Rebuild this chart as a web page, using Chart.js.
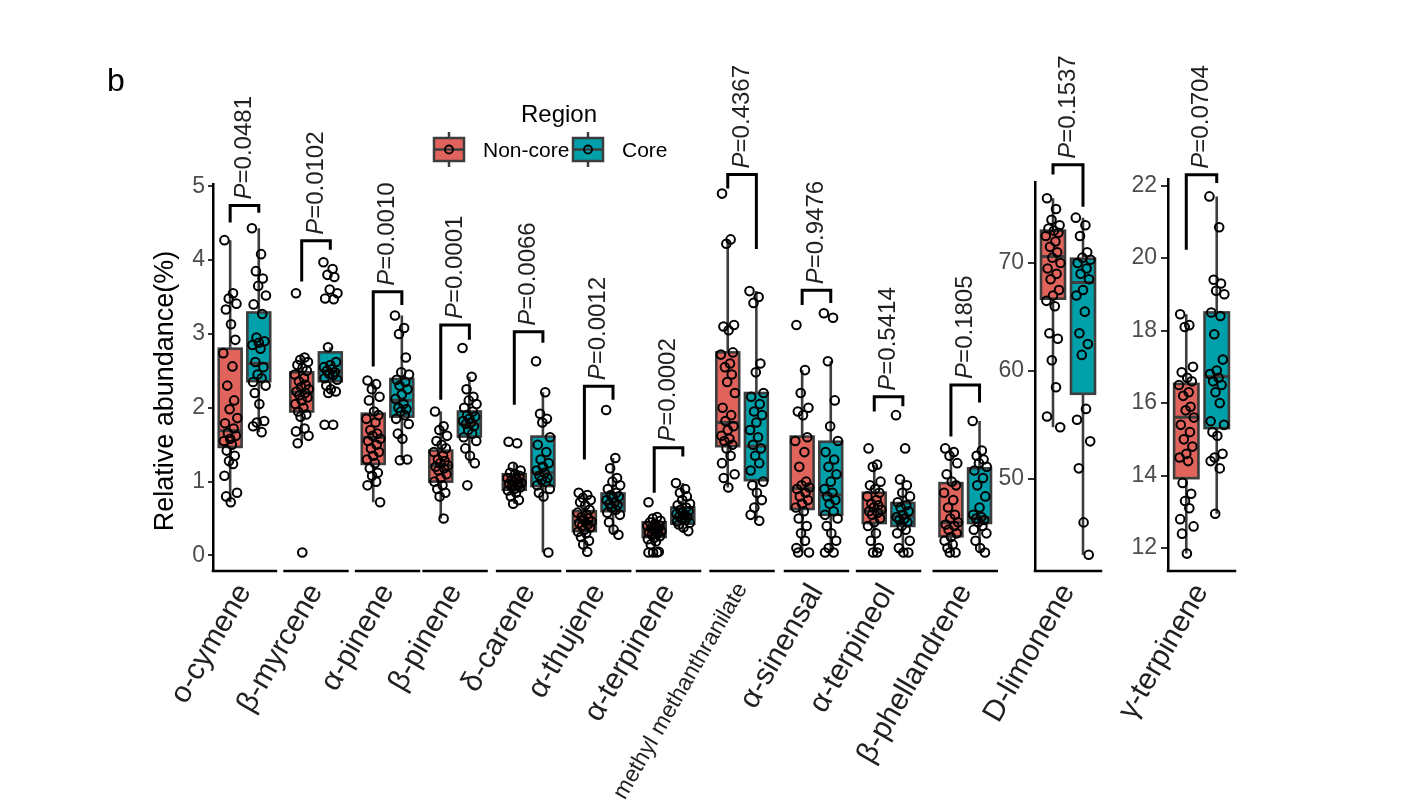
<!DOCTYPE html>
<html>
<head>
<meta charset="utf-8">
<script src="https://cdn.jsdelivr.net/npm/chart.js@4.4.0/dist/chart.umd.min.js"></script>
<style>
    html, body { margin: 0; padding: 0; background: #ffffff; }
    #wrap { position: relative; width: 1414px; height: 806px; overflow: hidden; }
    #wrap canvas { position: absolute; left: 0; top: 0; }
</style>
</head>
<body>
<div id="wrap">
    <canvas id="mainChart" width="1414" height="806"></canvas>
    <canvas id="limoneneChart" width="1414" height="806"></canvas>
    <canvas id="terpineneChart" width="1414" height="806"></canvas>
</div>
<script>
// ---- data ----
const compounds = ['o-cymene', 'β-myrcene', 'α-pinene', 'β-pinene', 'δ-carene', 'α-thujene', 'α-terpinene',
    'methyl methanthranilate', 'α-sinensal', 'α-terpineol', 'β-phellandrene', 'D-limonene', 'γ-terpinene'];
const regions = ['Non-core', 'Core'];
const pValues = ['0.0481', '0.0102', '0.0010', '0.0001', '0.0066', '0.0012', '0.0002',
    '0.4367', '0.9476', '0.5414', '0.1805', '0.1537', '0.0704'];

const mainTicks = [0, 1, 2, 3, 4, 5];
const limoneneTicks = [50, 60, 70];
const terpineneTicks = [12, 14, 16, 18, 20, 22];

// [lower whisker, q1, median, q3, upper whisker]
const nonCoreBox = [
    [0.72, 1.47, 1.69, 2.80, 4.27],
    [1.52, 1.95, 2.21, 2.48, 2.68],
    [0.72, 1.24, 1.60, 1.92, 2.37],
    [0.50, 1.00, 1.22, 1.42, 1.95],
    [0.70, 0.89, 1.00, 1.10, 1.25],
    [0.05, 0.33, 0.46, 0.60, 0.85],
    [0.14, 0.25, 0.36, 0.45, 0.52],
    [0.92, 1.48, 1.80, 2.75, 4.28],
    [0.04, 0.63, 0.91, 1.61, 2.51],
    [0.04, 0.44, 0.60, 0.85, 1.23],
    [0.04, 0.26, 0.45, 0.98, 1.45],
    [54.8, 66.7, 70.6, 73.0, 76.0],
    [11.85, 13.93, 15.61, 16.53, 18.45]
];
const coreBox = [
    [1.67, 2.36, 2.60, 3.29, 4.43],
    [2.20, 2.36, 2.50, 2.75, 2.82],
    [1.29, 1.88, 2.10, 2.39, 3.25],
    [1.25, 1.61, 1.78, 1.95, 2.42],
    [0.04, 0.94, 1.12, 1.61, 2.21],
    [0.28, 0.60, 0.71, 0.84, 1.32],
    [0.31, 0.43, 0.53, 0.65, 0.98],
    [0.47, 1.02, 1.48, 2.20, 3.58],
    [0.04, 0.55, 0.82, 1.54, 2.63],
    [0.04, 0.40, 0.53, 0.71, 1.03],
    [0.04, 0.44, 0.51, 1.18, 1.82],
    [43.0, 57.9, 68.2, 70.4, 74.2],
    [12.95, 15.31, 16.73, 18.5, 21.7]
];

const nonCorePoints = [
    [4.27, 3.55, 3.48, 3.41, 3.33, 3.13, 2.92, 2.74, 2.56, 2.30, 2.10, 1.98, 1.86, 1.79, 1.72, 1.66, 1.62, 1.58, 1.55, 1.50, 1.42, 1.35, 1.28, 1.24, 1.08, 0.85, 0.80, 0.72],
    [3.55, 2.68, 2.65, 2.62, 2.58, 2.54, 2.50, 2.45, 2.40, 2.36, 2.31, 2.28, 2.25, 2.22, 2.20, 2.17, 2.14, 2.10, 2.05, 2.00, 1.95, 1.91, 1.88, 1.72, 1.68, 1.62, 1.52, 0.04],
    [2.37, 2.32, 2.25, 2.15, 2.10, 1.95, 1.90, 1.85, 1.80, 1.70, 1.65, 1.62, 1.58, 1.55, 1.50, 1.45, 1.40, 1.35, 1.30, 1.25, 1.18, 1.12, 1.08, 1.00, 0.95, 0.72],
    [1.95, 1.75, 1.70, 1.62, 1.55, 1.50, 1.45, 1.40, 1.35, 1.30, 1.28, 1.25, 1.22, 1.20, 1.18, 1.15, 1.10, 1.05, 1.00, 0.95, 0.90, 0.85, 0.80, 0.50],
    [1.54, 1.52, 1.20, 1.15, 1.12, 1.10, 1.08, 1.05, 1.03, 1.02, 1.00, 1.00, 0.98, 0.97, 0.95, 0.93, 0.92, 0.90, 0.88, 0.85, 0.80, 0.75, 0.70],
    [0.85, 0.82, 0.78, 0.75, 0.72, 0.68, 0.62, 0.58, 0.55, 0.52, 0.50, 0.48, 0.46, 0.44, 0.42, 0.40, 0.38, 0.35, 0.32, 0.30, 0.25, 0.20, 0.15, 0.05],
    [0.72, 0.52, 0.50, 0.47, 0.45, 0.43, 0.41, 0.40, 0.38, 0.37, 0.36, 0.35, 0.33, 0.31, 0.30, 0.28, 0.26, 0.24, 0.22, 0.19, 0.15, 0.05, 0.04, 0.04, 0.04],
    [4.90, 4.28, 4.22, 3.12, 3.10, 3.05, 2.75, 2.72, 2.60, 2.55, 2.45, 2.35, 2.20, 2.00, 1.90, 1.82, 1.75, 1.70, 1.62, 1.58, 1.55, 1.50, 1.45, 1.35, 1.25, 1.10, 1.05, 0.92],
    [3.12, 2.51, 2.20, 2.00, 1.95, 1.90, 1.60, 1.55, 1.40, 1.20, 1.00, 0.95, 0.92, 0.90, 0.85, 0.80, 0.75, 0.70, 0.65, 0.60, 0.50, 0.40, 0.30, 0.20, 0.10, 0.04, 0.04],
    [1.45, 1.23, 1.20, 1.00, 0.95, 0.90, 0.85, 0.80, 0.75, 0.70, 0.68, 0.65, 0.62, 0.60, 0.58, 0.55, 0.50, 0.45, 0.40, 0.30, 0.20, 0.10, 0.04, 0.04],
    [1.45, 1.40, 1.35, 1.25, 1.10, 1.00, 0.95, 0.85, 0.75, 0.65, 0.55, 0.50, 0.45, 0.42, 0.40, 0.35, 0.30, 0.25, 0.20, 0.15, 0.10, 0.04, 0.04],
    [76.0, 75.0, 74.0, 73.5, 73.2, 73.0, 72.8, 72.5, 72.0, 71.5, 71.0, 70.5, 70.0, 69.5, 69.0, 68.5, 67.5, 67.0, 66.5, 66.0, 63.5, 63.0, 61.0, 58.5, 55.8, 54.8],
    [18.45, 18.15, 18.10, 17.0, 16.85, 16.7, 16.6, 16.5, 16.3, 16.2, 15.9, 15.8, 15.6, 15.4, 15.2, 15.0, 14.8, 14.6, 14.5, 14.4, 13.8, 13.5, 13.3, 13.1, 12.8, 12.6, 12.4, 11.85]
];
const corePoints = [
    [4.43, 4.08, 3.85, 3.75, 3.65, 3.52, 3.40, 3.27, 2.95, 2.90, 2.88, 2.85, 2.80, 2.62, 2.55, 2.45, 2.40, 2.35, 2.30, 2.20, 2.05, 1.82, 1.80, 1.75, 1.67],
    [3.97, 3.88, 3.80, 3.77, 3.60, 3.55, 3.48, 3.47, 2.82, 2.62, 2.58, 2.55, 2.52, 2.50, 2.48, 2.46, 2.44, 2.40, 2.38, 2.30, 2.25, 2.22, 2.20, 1.77, 1.77],
    [3.25, 3.08, 3.00, 2.68, 2.48, 2.45, 2.38, 2.35, 2.30, 2.25, 2.18, 2.12, 2.05, 2.00, 1.98, 1.95, 1.90, 1.85, 1.78, 1.65, 1.58, 1.30, 1.29],
    [2.81, 2.42, 2.25, 2.15, 2.10, 2.05, 2.00, 1.95, 1.90, 1.88, 1.85, 1.82, 1.80, 1.78, 1.75, 1.70, 1.65, 1.60, 1.55, 1.45, 1.35, 1.25, 0.95],
    [2.63, 2.21, 1.92, 1.85, 1.80, 1.60, 1.50, 1.40, 1.30, 1.25, 1.20, 1.15, 1.12, 1.08, 1.05, 1.02, 1.00, 0.95, 0.90, 0.85, 0.80, 0.04],
    [1.97, 1.32, 1.18, 1.05, 1.00, 0.95, 0.90, 0.85, 0.82, 0.80, 0.78, 0.75, 0.72, 0.70, 0.68, 0.65, 0.62, 0.58, 0.55, 0.45, 0.35, 0.28],
    [0.98, 0.90, 0.85, 0.80, 0.75, 0.70, 0.68, 0.65, 0.62, 0.60, 0.58, 0.56, 0.55, 0.53, 0.52, 0.50, 0.48, 0.46, 0.44, 0.42, 0.38, 0.33],
    [3.58, 3.50, 3.42, 2.60, 2.48, 2.20, 2.15, 2.05, 1.95, 1.90, 1.80, 1.70, 1.60, 1.50, 1.45, 1.35, 1.25, 1.15, 1.00, 0.95, 0.85, 0.75, 0.65, 0.55, 0.47],
    [3.28, 3.22, 2.63, 2.10, 1.75, 1.55, 1.40, 1.30, 1.20, 1.10, 1.00, 0.90, 0.85, 0.80, 0.75, 0.70, 0.60, 0.55, 0.50, 0.40, 0.30, 0.20, 0.10, 0.04, 0.04],
    [1.90, 1.45, 1.03, 0.95, 0.85, 0.80, 0.72, 0.68, 0.65, 0.60, 0.55, 0.52, 0.50, 0.48, 0.45, 0.40, 0.35, 0.30, 0.20, 0.10, 0.04, 0.04],
    [1.82, 1.42, 1.35, 1.30, 1.25, 1.20, 1.15, 1.05, 0.95, 0.80, 0.65, 0.55, 0.52, 0.50, 0.48, 0.45, 0.40, 0.35, 0.30, 0.20, 0.10, 0.04],
    [74.2, 73.5, 72.5, 71.0, 70.5, 70.3, 70.0, 69.5, 69.0, 68.5, 67.5, 67.0, 65.5, 63.5, 62.5, 61.5, 56.5, 55.5, 53.5, 51.0, 46.0, 43.0],
    [21.7, 20.85, 19.4, 19.3, 19.1, 19.0, 18.5, 18.4, 17.9, 17.2, 16.9, 16.8, 16.7, 16.6, 16.5, 16.3, 16.0, 15.5, 15.4, 15.2, 15.1, 14.6, 14.5, 14.4, 14.2, 12.95]
];

// significance brackets, in data units of each panel
const bracketTop = [4.74, 4.26, 3.57, 3.12, 3.03, 2.29, 1.46, 5.16, 3.59, 2.15, 2.31, 79.1, 22.30];
const bracketLeftEnd = [4.51, 3.71, 2.56, 2.11, 2.04, 1.30, 0.85, 4.97, 3.39, 1.95, 1.61, 78.2, 20.23];
const bracketRightEnd = [4.64, 4.14, 3.39, 2.92, 2.88, 2.11, 1.34, 4.15, 3.42, 2.02, 2.07, 75.2, 22.07];

// ---- styling / layout ----
const FONT = '"Liberation Sans", Arial, Helvetica, sans-serif';
const FILLS = ['#E0635C', '#00A0AA'];
const BOX_LINE = '#3D3D3D';
const TEXT_DARK = '#231F20';
const BOX_HALF = 0.4;
const Y_AXIS_W = 67;
const X_AXIS_H = 230;
const JITTER = [-0.2, 0.1, -0.05, 0.22, -0.15, 0.03, 0.18, -0.24, 0.08, -0.1, 0.14, -0.02, 0.25, -0.18, 0.12,
    -0.08, 0.2, 0.0, -0.22, 0.06, -0.12, 0.16, -0.04, 0.1, -0.2, 0.24, -0.14, 0.02, 0.19, -0.07];

const panels = [
    {
        id: 'mainChart', facets: [0, 1, 2, 3, 4, 5, 6, 7, 8, 9, 10],
        centers: [1.5, 4.0, 6.5, 8.86, 11.43, 13.88, 16.32, 18.89, 21.49, 24.01, 26.69],
        xMin: 0.4, xMax: 27.8, yMin: -0.21, yMax: 5.03, ticks: mainTicks,
        area: { left: 213, right: 997, top: 184, bottom: 571 },
        tickLen: 5, tickPad: 3, title: 'Relative abundance(%)', legend: true
    },
    {
        id: 'limoneneChart', facets: [11], centers: [1.5],
        xMin: 0.4, xMax: 2.6, yMin: 41.5, yMax: 77.5, ticks: limoneneTicks,
        area: { left: 1035, right: 1101, top: 182, bottom: 571 },
        tickLen: 7, tickPad: 4
    },
    {
        id: 'terpineneChart', facets: [12], centers: [1.5],
        xMin: 0.4, xMax: 2.6, yMin: 11.37, yMax: 22.18, ticks: terpineneTicks,
        area: { left: 1168, right: 1235, top: 179, bottom: 571 },
        tickLen: 7, tickPad: 4
    }
];

function groupX(panel, j, g) {
    return panel.centers[j] + (g === 0 ? -0.5 : 0.5);
}

function labelFor(panel, i) {
    const f = panel.facets[i];
    return f === undefined ? '' : compounds[f];
}

function drawLegendKey(ctx, x, y, fill) {
    const w = 30, h = 23, cx = x + w / 2, cy = y + h / 2;
    ctx.strokeStyle = BOX_LINE;
    ctx.lineWidth = 2.5;
    ctx.beginPath();
    ctx.moveTo(cx, y - 6);
    ctx.lineTo(cx, y + h + 6);
    ctx.stroke();
    ctx.fillStyle = fill;
    ctx.fillRect(x, y, w, h);
    ctx.strokeRect(x, y, w, h);
    ctx.beginPath();
    ctx.moveTo(x, cy);
    ctx.lineTo(x + w, cy);
    ctx.stroke();
    ctx.strokeStyle = '#000';
    ctx.lineWidth = 1.8;
    ctx.beginPath();
    ctx.arc(cx, cy, 4, 0, Math.PI * 2);
    ctx.stroke();
}

function makeFacetPlugin(panel) {
    return {
        id: 'facets',
        beforeDatasetsDraw(chart) {
            const { ctx, scales: { x, y } } = chart;
            ctx.save();
            panel.facets.forEach((f, j) => {
                [nonCoreBox, coreBox].forEach((boxes, g) => {
                    const [lo, q1, med, q3, hi] = boxes[f];
                    const pos = groupX(panel, j, g);
                    const xc = x.getPixelForValue(pos);
                    const xl = x.getPixelForValue(pos - BOX_HALF);
                    const xr = x.getPixelForValue(pos + BOX_HALF);
                    const top = y.getPixelForValue(q3);
                    const bot = y.getPixelForValue(q1);
                    ctx.strokeStyle = BOX_LINE;
                    ctx.lineWidth = 2.6;
                    ctx.beginPath();
                    ctx.moveTo(xc, y.getPixelForValue(hi));
                    ctx.lineTo(xc, top);
                    ctx.moveTo(xc, bot);
                    ctx.lineTo(xc, y.getPixelForValue(lo));
                    ctx.stroke();
                    ctx.fillStyle = FILLS[g];
                    ctx.fillRect(xl, top, xr - xl, bot - top);
                    ctx.strokeRect(xl, top, xr - xl, bot - top);
                    ctx.lineWidth = 3;
                    ctx.beginPath();
                    ctx.moveTo(xl, y.getPixelForValue(med));
                    ctx.lineTo(xr, y.getPixelForValue(med));
                    ctx.stroke();
                });
            });
            ctx.restore();
        },
        afterDraw(chart) {
            const { ctx, chartArea, scales: { x, y } } = chart;
            ctx.save();
            // one x axis line per facet
            ctx.strokeStyle = '#000';
            ctx.lineWidth = 2.5;
            ctx.lineCap = 'square';
            panel.facets.forEach((f, j) => {
                ctx.beginPath();
                ctx.moveTo(x.getPixelForValue(panel.centers[j] - 1.1), chartArea.bottom);
                ctx.lineTo(x.getPixelForValue(panel.centers[j] + 1.1), chartArea.bottom);
                ctx.stroke();
            });
            ctx.lineCap = 'butt';

            // brackets and P values
            panel.facets.forEach((f, j) => {
                const xl = x.getPixelForValue(groupX(panel, j, 0));
                const xr = x.getPixelForValue(groupX(panel, j, 1));
                const yt = y.getPixelForValue(bracketTop[f]);
                ctx.strokeStyle = '#000';
                ctx.lineWidth = 3;
                ctx.lineJoin = 'miter';
                ctx.beginPath();
                ctx.moveTo(xl, y.getPixelForValue(bracketLeftEnd[f]));
                ctx.lineTo(xl, yt);
                ctx.lineTo(xr, yt);
                ctx.lineTo(xr, y.getPixelForValue(bracketRightEnd[f]));
                ctx.stroke();

                ctx.save();
                ctx.translate((xl + xr) / 2, yt - 6);
                ctx.rotate(-Math.PI / 2);
                ctx.fillStyle = TEXT_DARK;
                ctx.textAlign = 'left';
                ctx.textBaseline = 'middle';
                ctx.font = 'italic 24px ' + FONT;
                ctx.fillText('P', 0, 0);
                const pw = ctx.measureText('P').width;
                ctx.font = '24px ' + FONT;
                ctx.fillText('=' + pValues[f], pw, 0);
                ctx.restore();
            });

            if (panel.title) {
                ctx.save();
                ctx.translate(166, 391);
                ctx.rotate(-Math.PI / 2);
                ctx.fillStyle = '#000';
                ctx.textAlign = 'center';
                ctx.textBaseline = 'middle';
                ctx.font = '27px ' + FONT;
                ctx.fillText(panel.title, 0, 0);
                ctx.restore();
            }

            if (panel.legend) {
                ctx.fillStyle = '#000';
                ctx.textAlign = 'left';
                ctx.textBaseline = 'alphabetic';
                ctx.font = '32px ' + FONT;
                ctx.fillText('b', 107, 91);
                ctx.font = '24px ' + FONT;
                ctx.fillText('Region', 521, 122);
                drawLegendKey(ctx, 434, 138, FILLS[0]);
                drawLegendKey(ctx, 573, 138, FILLS[1]);
                ctx.fillStyle = '#000';
                ctx.font = '21px ' + FONT;
                ctx.textBaseline = 'middle';
                ctx.fillText(regions[0], 483, 151);
                ctx.fillText(regions[1], 622, 151);
            }
            ctx.restore();
        }
    };
}

function buildPanel(panel) {
    const datasets = [nonCorePoints, corePoints].map((pointSets, g) => ({
        label: regions[g],
        data: panel.facets.flatMap((f, j) => pointSets[f].map((v, i) => ({
            x: groupX(panel, j, g) + JITTER[(i + g * 7) % JITTER.length],
            y: v
        }))),
        pointStyle: 'circle',
        pointRadius: 4.3,
        pointBorderWidth: 2,
        pointBorderColor: '#000000',
        pointBackgroundColor: 'rgba(0,0,0,0)',
        showLine: false,
        clip: false
    }));

    const ctx = document.getElementById(panel.id).getContext('2d');
    return new Chart(ctx, {
        type: 'scatter',
        data: { datasets },
        options: {
            responsive: false,
            animation: false,
            events: [],
            layout: {
                padding: {
                    left: panel.area.left - Y_AXIS_W,
                    right: 1414 - panel.area.right,
                    top: panel.area.top,
                    bottom: 806 - panel.area.bottom - X_AXIS_H
                }
            },
            plugins: {
                legend: { display: false },
                tooltip: { enabled: false }
            },
            scales: {
                x: {
                    type: 'linear',
                    min: panel.xMin,
                    max: panel.xMax,
                    border: { display: false },
                    grid: { display: false, drawTicks: false },
                    afterBuildTicks: (scale) => {
                        scale.ticks = panel.centers.map(c => ({ value: c }));
                    },
                    afterFit: (scale) => { scale.height = X_AXIS_H; },
                    ticks: {
                        autoSkip: false,
                        minRotation: 60,
                        maxRotation: 60,
                        padding: 7,
                        labelOffset: 0,
                        color: TEXT_DARK,
                        font: (c) => ({
                            family: FONT,
                            size: labelFor(panel, c.index).length > 15 ? 23 : 30
                        }),
                        callback: (v, i) => labelFor(panel, i)
                    }
                },
                y: {
                    type: 'linear',
                    min: panel.yMin,
                    max: panel.yMax,
                    afterBuildTicks: (scale) => {
                        scale.ticks = panel.ticks.map(v => ({ value: v }));
                    },
                    afterFit: (scale) => { scale.width = Y_AXIS_W; },
                    border: { display: true, color: '#000000', width: 2.5 },
                    grid: {
                        drawOnChartArea: false,
                        drawTicks: true,
                        tickLength: panel.tickLen,
                        color: '#333333',
                        lineWidth: 2
                    },
                    ticks: {
                        color: '#4D4D4D',
                        padding: panel.tickPad,
                        font: { family: FONT, size: 23 }
                    },
                    title: { display: false }
                }
            }
        },
        plugins: [makeFacetPlugin(panel)]
    });
}

panels.forEach(buildPanel);
</script>
</body>
</html>
